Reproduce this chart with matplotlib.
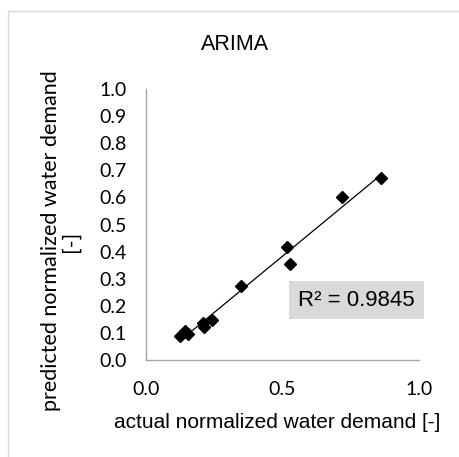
import numpy as np
import matplotlib
matplotlib.use("Agg")
import matplotlib.pyplot as plt
from matplotlib.patches import Rectangle

# actual vs predicted (normalized water demand)
actual = [0.125, 0.143, 0.155, 0.208, 0.214, 0.241, 0.348, 0.515, 0.527, 0.719, 0.860]
predicted = [0.090, 0.107, 0.095, 0.135, 0.122, 0.148, 0.273, 0.418, 0.353, 0.603, 0.670]
x_ticks = [0.0, 0.5, 1.0]
y_ticks = [0.0, 0.1, 0.2, 0.3, 0.4, 0.5, 0.6, 0.7, 0.8, 0.9, 1.0]
r2_text = "R² = 0.9845"

W, H = 459, 457
fig = plt.figure(figsize=(W / 100, H / 100), dpi=100)

# chart area border
fig.add_artist(Rectangle((8 / W, -0.1), 1.2, 1.1 - 11 / H, transform=fig.transFigure,
                         facecolor="none", edgecolor="#d9d9d9", linewidth=1))

ax = fig.add_axes([146 / W, 97 / H, 273 / W, 271 / H])
x = np.array(actual)
y = np.array(predicted)
ax.plot(x, y, "D", color="black", markersize=6, zorder=3)

# linear trend line
k, b = np.polyfit(x, y, 1)
xl = np.array([x.min(), x.max()])
ax.plot(xl, k * xl + b, color="black", linewidth=0.9)

ax.set_xlim(0, 1)
ax.set_ylim(0, 1)
ax.set_xticks(x_ticks)
ax.set_yticks(y_ticks)
ax.set_xticklabels(["%.1f" % v for v in x_ticks], family="Lato", fontsize=14)
ax.set_yticklabels(["%.1f" % v for v in y_ticks], family="Lato", fontsize=14)
ax.tick_params(length=0, pad=15, colors="black")
ax.tick_params(axis="y", pad=14)
for s in ["top", "right"]:
    ax.spines[s].set_visible(False)
for s in ["left", "bottom"]:
    ax.spines[s].set_color("#a6a6a6")
    ax.spines[s].set_linewidth(1)

fig.text(235 / W, 1 - 45 / H, "ARIMA", ha="center", va="center",
         family="Liberation Sans", fontsize=15.5)
fig.text(277 / W, 1 - 422 / H, "actual normalized water demand [-]", ha="center", va="center",
         family="Liberation Sans", fontsize=15)
fig.text(61 / W, 1 - 241 / H, "predicted normalized water demand\n[-]", ha="center", va="center",
         rotation=90, family="Lato", fontsize=15.5, linespacing=1.0)

ax.text(0.985, 0.221, r2_text, transform=ax.transData, ha="right", va="center",
        family="Liberation Sans", fontsize=16,
        bbox=dict(boxstyle="square,pad=0.4", facecolor="#d9d9d9", edgecolor="none"))

fig.savefig("out.png", dpi=100)
